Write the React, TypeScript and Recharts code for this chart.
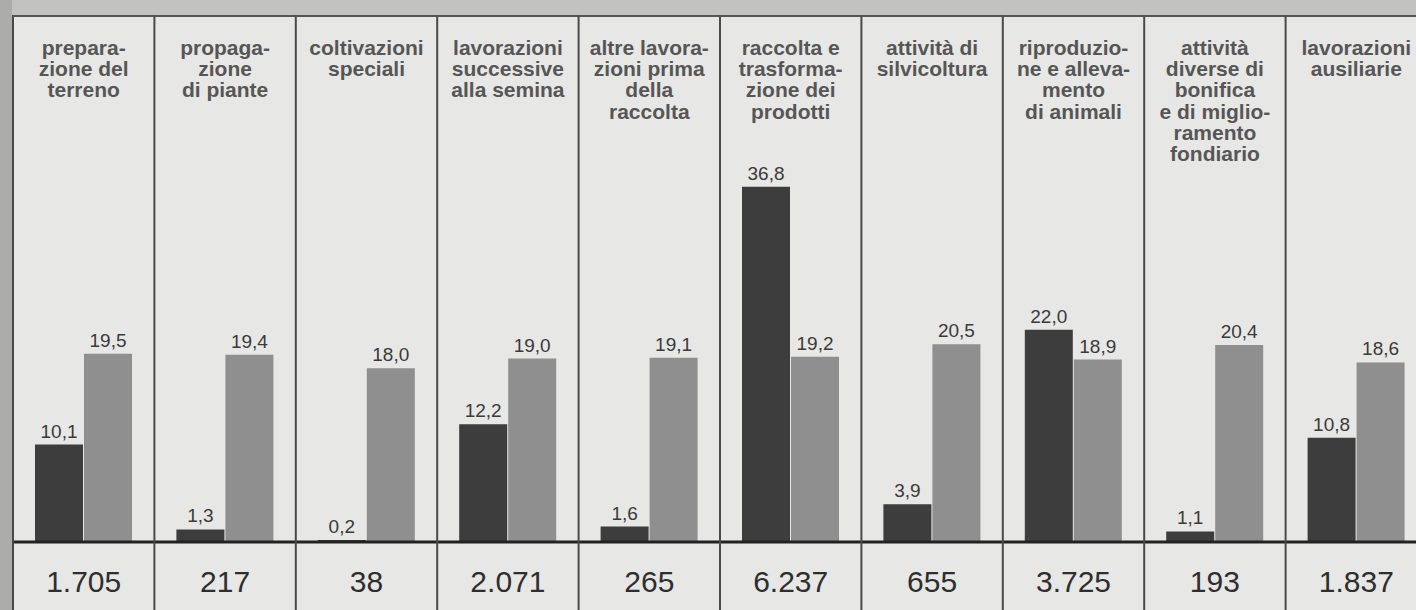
import { Bar, BarChart, LabelList, ReferenceLine, XAxis, YAxis } from "recharts";

const W = 1416;
const H = 610;
const AXIS_H = 68;
const MARGIN = { top: 16, right: -11, bottom: 0, left: 13 };
const BAND = (W - MARGIN.left - MARGIN.right) / 10;
const FONT = "'Liberation Sans', Arial, Helvetica, sans-serif";

const categories = ["c1", "c2", "c3", "c4", "c5", "c6", "c7", "c8", "c9", "c10"];

const headers = [
  ["prepara-", "zione del", "terreno"],
  ["propaga-", "zione", "di piante"],
  ["coltivazioni", "speciali"],
  ["lavorazioni", "successive", "alla semina"],
  ["altre lavora-", "zioni prima", "della", "raccolta"],
  ["raccolta e", "trasforma-", "zione dei", "prodotti"],
  ["attività di", "silvicoltura"],
  ["riproduzio-", "ne e alleva-", "mento", "di animali"],
  ["attività", "diverse di", "bonifica", "e di miglio-", "ramento", "fondiario"],
  ["lavorazioni", "ausiliarie"],
];

const darkValues = [10.1, 1.3, 0.2, 12.2, 1.6, 36.8, 3.9, 22.0, 1.1, 10.8];
const grayValues = [19.5, 19.4, 18.0, 19.0, 19.1, 19.2, 20.5, 18.9, 20.4, 18.6];
const totals = ["1.705", "217", "38", "2.071", "265", "6.237", "655", "3.725", "193", "1.837"];

const data = categories.map((c, i) => ({ cat: c, dark: darkValues[i], gray: grayValues[i] }));

const fmt = (v: any) => Number(v).toFixed(1).replace(".", ",");

function PanelTick(props: any) {
  const { x, payload } = props;
  const i = categories.indexOf(payload.value);
  const left = x - BAND / 2;
  return (
    <g>
      <line x1={left} x2={left} y1={MARGIN.top - 1} y2={H} stroke="#4a4a4a" strokeWidth={2} />
      <line x1={left} x2={left + BAND} y1={MARGIN.top} y2={MARGIN.top} stroke="#555" strokeWidth={2} />
      <text
        x={x}
        y={55}
        textAnchor="middle"
        fontFamily={FONT}
        fontSize={21}
        fontWeight="bold"
        fill="#565656"
      >
        {headers[i].map((line, k) => (
          <tspan key={k} x={x} dy={k === 0 ? 0 : 21.2}>
            {line}
          </tspan>
        ))}
      </text>
      <text x={x} y={592} textAnchor="middle" fontFamily={FONT} fontSize={30} fill="#2e2e2e">
        {totals[i]}
      </text>
    </g>
  );
}

export default function App() {
  return (
    <div
      style={{
        position: "fixed",
        left: 0,
        top: 0,
        width: W,
        height: H,
        background: "#e7e7e5",
        overflow: "hidden",
      }}
    >
      <div style={{ position: "absolute", left: 0, top: 0, width: W, height: 15, background: "#c2c2c0" }} />
      <div style={{ position: "absolute", left: 0, top: 0, width: 12, height: H, background: "#acacaa" }} />
      <BarChart
        width={W}
        height={H}
        data={data}
        margin={MARGIN}
        barSize={48}
        barGap={1}
        style={{ position: "absolute", left: 0, top: 0 }}
      >
        <XAxis
          dataKey="cat"
          interval={0}
          axisLine={false}
          tickLine={false}
          height={AXIS_H}
          tick={<PanelTick />}
        />
        <YAxis hide domain={[0, 54.5]} />
        <Bar dataKey="dark" fill="#3d3d3d" isAnimationActive={false}>
          <LabelList
            dataKey="dark"
            position="top"
            offset={7}
            formatter={fmt}
            fontFamily={FONT}
            fontSize={19}
            fill="#3a3a3a"
          />
        </Bar>
        <Bar dataKey="gray" fill="#8f8f8f" isAnimationActive={false}>
          <LabelList
            dataKey="gray"
            position="top"
            offset={7}
            formatter={fmt}
            fontFamily={FONT}
            fontSize={19}
            fill="#3a3a3a"
          />
        </Bar>
        <ReferenceLine y={0} stroke="#222" strokeWidth={3} />
      </BarChart>
    </div>
  );
}
